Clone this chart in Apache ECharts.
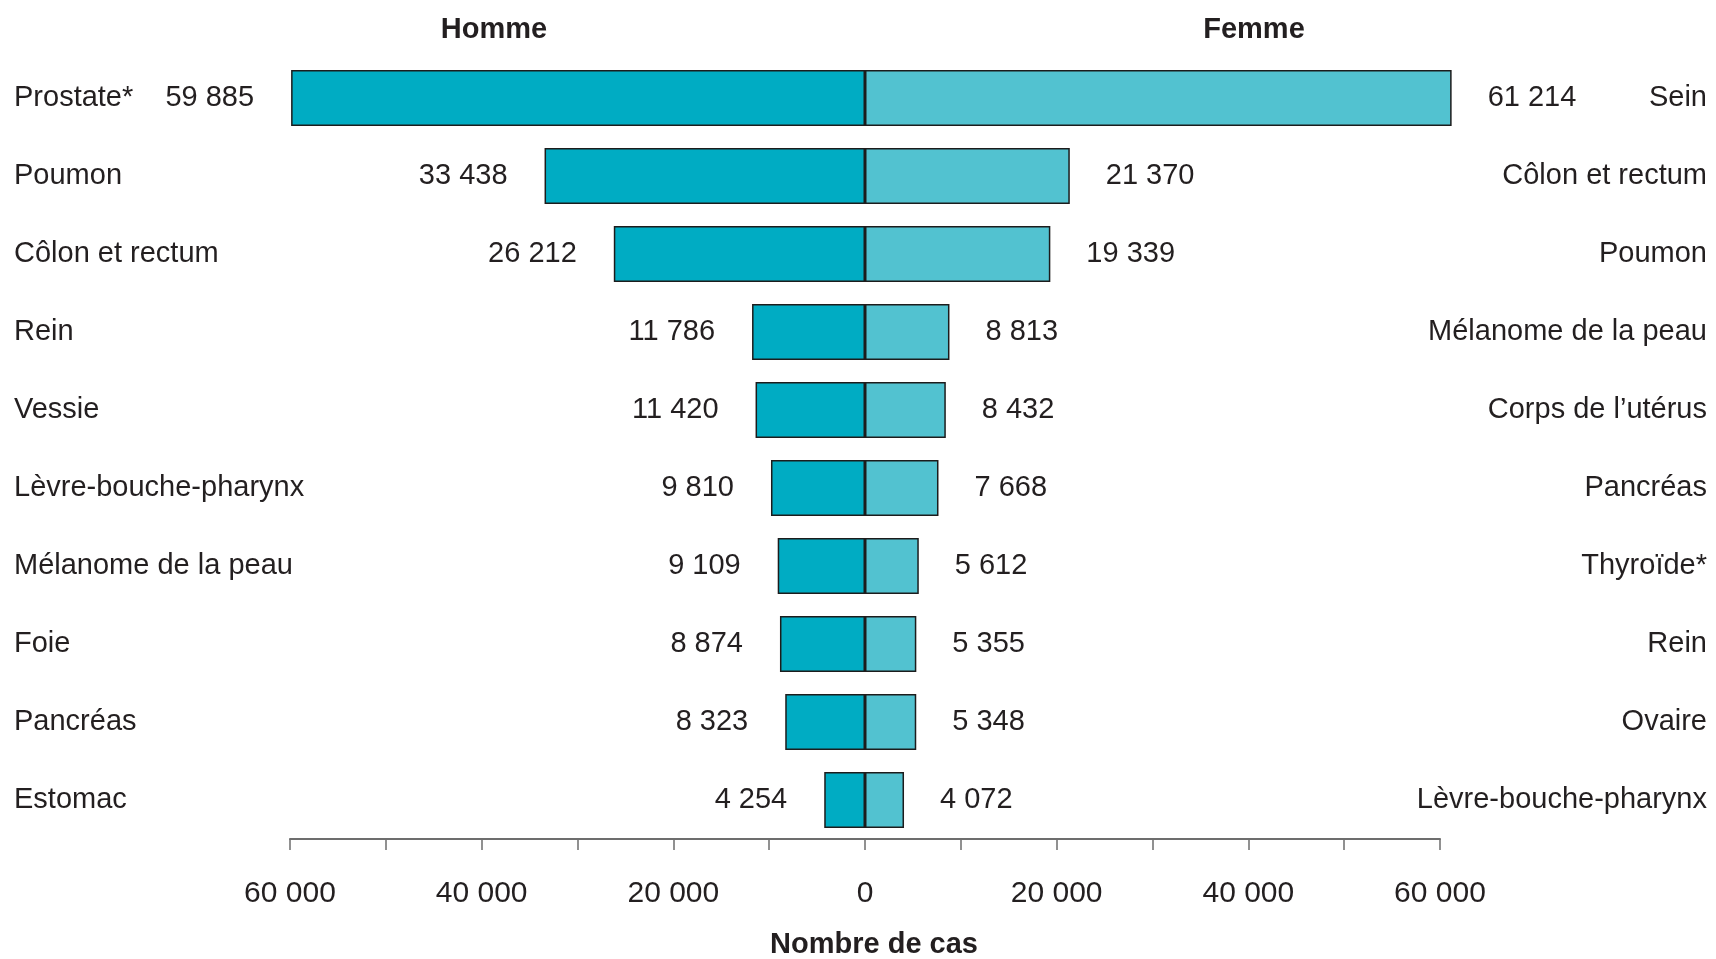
<!DOCTYPE html>
<html>
<head>
<meta charset="utf-8">
<script src="https://cdn.jsdelivr.net/npm/echarts@6/dist/echarts.min.js"></script>
<style>
  html, body { margin: 0; padding: 0; background: #ffffff; }
  #chart { width: 1716px; height: 959px; }
</style>
</head>
<body>
<div id="chart"></div>
<script>
// Cancer sites, men (left) and women (right), ranked by number of cases
const hommeSites = ['Prostate*', 'Poumon', 'Côlon et rectum', 'Rein', 'Vessie',
  'Lèvre-bouche-pharynx', 'Mélanome de la peau', 'Foie', 'Pancréas', 'Estomac'];
const hommeCas = [59885, 33438, 26212, 11786, 11420, 9810, 9109, 8874, 8323, 4254];

const femmeSites = ['Sein', 'Côlon et rectum', 'Poumon', 'Mélanome de la peau', 'Corps de l’utérus',
  'Pancréas', 'Thyroïde*', 'Rein', 'Ovaire', 'Lèvre-bouche-pharynx'];
const femmeCas = [61214, 21370, 19339, 8813, 8432, 7668, 5612, 5355, 5348, 4072];

const axisTicks = [-60000, -40000, -20000, 0, 20000, 40000, 60000];

const FONT = '"Liberation Sans Narrow", "Liberation Sans", Arial, sans-serif';
const TXT = '#231f20';
const FS = 29;
const PAD = [8, 0, 0, 0];

// French thousands grouping with a space
function fmt(v) {
  return String(Math.abs(v)).replace(/\B(?=(\d{3})+(?!\d))/g, ' ');
}

const chart = echarts.init(document.getElementById('chart'), null, { renderer: 'canvas' });

chart.setOption({
  backgroundColor: '#ffffff',
  animation: false,
  textStyle: { fontFamily: FONT, color: TXT },
  grid: { left: 290, right: 276, top: 59, bottom: 120, containLabel: false },
  xAxis: {
    type: 'value',
    min: -60000,
    max: 60000,
    interval: 10000,
    splitLine: { show: false },
    axisLine: { show: true, lineStyle: { color: '#6d6d6d', width: 2 } },
    axisTick: { show: true, length: 11, lineStyle: { color: '#6d6d6d', width: 1.5 } },
    axisLabel: {
      margin: 40,
      fontSize: 30,
      fontFamily: FONT,
      color: TXT,
      formatter: function (v) { return axisTicks.indexOf(v) >= 0 ? fmt(v) : ''; }
    }
  },
  yAxis: [
    {
      type: 'category',
      data: hommeSites,
      inverse: true,
      position: 'left',
      axisLine: { show: false },
      axisTick: { show: false },
      axisLabel: { align: 'left', margin: 276, fontSize: FS, fontFamily: FONT, color: TXT, padding: PAD }
    },
    {
      type: 'category',
      data: femmeSites,
      inverse: true,
      position: 'right',
      axisLine: { show: false },
      axisTick: { show: false },
      axisLabel: { align: 'right', margin: 267, fontSize: FS, fontFamily: FONT, color: TXT, padding: PAD }
    }
  ],
  series: [
    {
      name: 'Homme',
      type: 'bar',
      stack: 'cas',
      yAxisIndex: 0,
      barWidth: 56,
      clip: false,
      data: hommeCas.map(v => -v),
      itemStyle: { color: '#00acc3', borderColor: '#1c1c1c', borderWidth: 1.5 },
      label: {
        show: true,
        position: 'left',
        distance: 37,
        fontSize: FS,
        fontFamily: FONT,
        color: TXT,
        padding: PAD,
        formatter: p => fmt(p.value)
      }
    },
    {
      name: 'Femme',
      type: 'bar',
      stack: 'cas',
      yAxisIndex: 0,
      barWidth: 56,
      clip: false,
      data: femmeCas,
      itemStyle: { color: '#52c2d0', borderColor: '#1c1c1c', borderWidth: 1.5 },
      label: {
        show: true,
        position: 'right',
        distance: 36,
        fontSize: FS,
        fontFamily: FONT,
        color: TXT,
        padding: PAD,
        formatter: p => fmt(p.value)
      }
    }
  ],
  graphic: [
    {
      type: 'text', x: 494, y: 30,
      style: { text: 'Homme', font: 'bold 29px ' + FONT, fill: TXT, align: 'center', verticalAlign: 'middle' }
    },
    {
      type: 'text', x: 1254, y: 30,
      style: { text: 'Femme', font: 'bold 29px ' + FONT, fill: TXT, align: 'center', verticalAlign: 'middle' }
    },
    {
      type: 'text', x: 874, y: 945,
      style: { text: 'Nombre de cas', font: 'bold 29px ' + FONT, fill: TXT, align: 'center', verticalAlign: 'middle' }
    }
  ]
});
</script>
</body>
</html>
